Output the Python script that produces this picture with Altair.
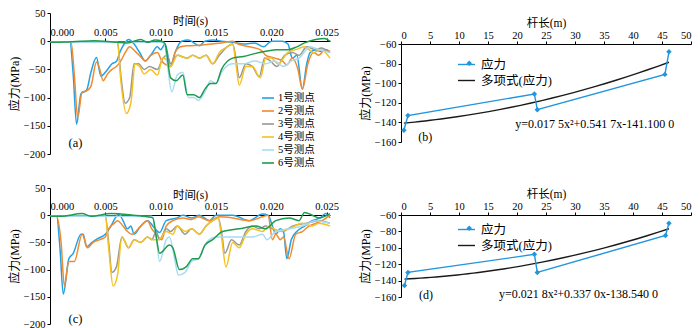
import altair as alt
import pandas as pd

FONT = "Liberation Serif, Noto Sans CJK SC, sans-serif"

SERIES = ["1号测点", "2号测点", "3号测点", "4号测点", "5号测点", "6号测点"]
COLORS = ["#22a2e6", "#f28a2e", "#989898", "#f6c21e", "#a8dcf3", "#1f9b4f"]

X_TS_DOMAIN = [0, 0.0253]
X_TS_TICKS = [0.0, 0.005, 0.010, 0.015, 0.020, 0.025]
Y_TS_DOMAIN = [-200, 50]
Y_TS_TICKS = [-200, -150, -100, -50, 0, 50]

# ---------------- panel (a): time in ms, stress in MPa ----------------
A1_T = [0, 1.8, 2.1, 2.4, 2.8, 3.3, 3.7, 4.2, 4.6, 5.2, 5.6, 6.0, 6.3, 6.7, 7.1, 7.6, 8.1, 8.6, 9.1, 9.7, 10.0,
        10.4, 10.9, 11.3, 11.9, 12.5, 13.0, 13.5, 14.0, 14.8, 15.5, 16.5, 17.5, 18.5, 19.3, 20.0, 21.0, 21.5,
        21.9, 22.3, 22.8, 23.2, 23.5, 24.0, 24.5, 25.0, 25.3]
A1_V = [-2, -2, -60, -147, -93, -87, -55, -29, -62, -50, -40, -36, -20, -5, 3, -5, -20, -35, -25, -10, -15,
        -5, -45, -20, 0, 2, -3, -8, 0, 2, 0, -2, -5, -3, -10, 0, 0, -5, -30, -25, -85, -40, -20, -15, -18, -15, -20]
A2_T = [0, 1.9, 2.2, 2.5, 2.9, 3.3, 3.7, 4.2, 4.5, 4.8, 5.2, 5.6, 6.0, 6.4, 6.8, 7.2, 7.7, 8.2, 8.6, 9.1, 9.7,
        10.1, 10.5, 10.9, 11.3, 11.8, 12.5, 13.5, 14.5, 15.5, 16.5, 17.0, 18.0, 19.0, 19.5, 20.3, 21.0, 21.4,
        21.9, 22.4, 22.8, 23.3, 23.8, 24.3, 24.8, 25.3]
A2_V = [-2, -2, -60, -135, -90, -88, -80, -37, -50, -70, -58, -50, -45, -35, -20, -10, -18, -28, -35, -25, -20,
        -35, -42, -45, -20, -10, -8, -7, -5, -3, 0, -5, -10, -15, -25, -30, -35, -42, -30, -50, -85, -40, -20,
        -25, -15, -18]
A3_T = [0, 6.1, 6.4, 6.8, 7.2, 7.6, 8.0, 8.5, 9.0, 9.7, 10.2, 10.6, 10.9, 11.5, 12.4, 12.9, 13.5, 14.1, 14.7,
        15.3, 16.0, 16.5, 16.8, 17.1, 17.7, 18.3, 18.9, 19.4, 19.9, 20.5, 21.2, 21.9, 22.5, 23.2, 24.0, 24.5, 25.3]
A3_V = [-2, -2, -60, -110, -100, -40, -40, -50, -45, -50, -30, -25, -40, -25, -30, -25, -30, -25, -40,
        -25, -10, -5, -30, -65, -40, -45, -63, -30, -35, -45, -25, -20, -25, -10, -15, -12, -20]
A4_T = [0, 6.1, 6.4, 6.9, 7.3, 7.7, 8.1, 8.5, 9.1, 9.7, 10.2, 10.6, 10.9, 11.5, 12.4, 12.9, 13.5, 14.1, 14.7,
        15.3, 16.0, 16.5, 16.8, 17.1, 17.7, 18.3, 19.0, 19.5, 20.0, 20.6, 21.5, 22.2, 23.0, 23.8, 24.5, 25.3]
A4_V = [-2, -2, -70, -128, -110, -40, -45, -58, -50, -60, -30, -35, -45, -25, -30, -25, -30, -25, -40,
        -20, -10, -5, -40, -78, -45, -45, -65, -30, -30, -40, -20, -15, -10, -20, -15, -30]
A5_T = [0, 10.3, 10.6, 11.0, 11.5, 12.0, 12.5, 13.0, 13.4, 14.0, 14.5, 15.0, 15.5, 16.5, 17.5, 18.5, 19.5,
        20.3, 21.1, 21.8, 22.5, 23.5, 24.3, 25.3]
A5_V = [-2, -2, -40, -90, -60, -55, -100, -100, -105, -90, -70, -75, -55, -40, -40, -35, -40,
        -35, -45, -35, -30, -10, -15, -20]
A6_T = [0, 2.0, 4.0, 6.0, 7.0, 8.2, 8.8, 9.5, 10.1, 10.4, 10.9, 11.4, 12.0, 12.4, 13.0, 13.5, 14.0, 14.5,
        15.0, 15.5, 16.5, 17.5, 18.5, 19.5, 20.5, 21.5, 22.3, 23.0, 24.0, 24.8, 25.3]
A6_V = [-2, -1, 1, -2, -3, 3, -2, 2, 0, -5, -65, -70, -60, -95, -95, -100, -85, -75,
        -75, -50, -30, -27, -22, -18, -15, -15, -10, -3, 3, 5, 0]

# ---------------- panel (c) ----------------
C1_T = [0, 0.6, 0.9, 1.2, 1.7, 2.1, 2.8, 3.0, 3.3, 3.8, 4.3, 5.0, 5.5, 5.9, 6.2, 6.6, 7.0, 7.3, 7.6, 8.2, 8.8,
        9.5, 9.9, 10.5, 11.5, 12.0, 12.8, 13.5, 14.4, 15.0, 16.5, 18.0, 19.2, 19.7, 20.1, 20.4, 20.8, 21.1,
        21.4, 21.8, 22.3, 23.0, 23.7, 24.4, 24.9, 25.3]
C1_V = [-2, -2, -60, -145, -80, -70, -35, -35, -58, -50, -43, -35, -20, -5, 2, -10, -25, -20, -35, -20, -10,
        -25, -32, -10, -5, 0, -5, 0, -10, 0, 0, -10, 2, 0, -20, -35, -25, -30,
        -80, -45, -30, -20, -10, -5, 3, -5]
C2_T = [0, 0.6, 1.0, 1.3, 1.7, 2.2, 2.9, 3.4, 3.9, 4.5, 5.0, 5.3, 5.8, 6.1, 6.6, 7.0, 7.4, 8.2, 8.8, 9.2, 9.6,
        10.1, 10.5, 11.1, 12.0, 12.8, 13.4, 14.4, 15.3, 16.5, 18.0, 19.2, 19.7, 20.1, 20.4, 20.8, 21.1, 21.6,
        22.2, 22.8, 23.4, 24.0, 24.6, 25.3]
C2_V = [-2, -2, -50, -130, -85, -85, -35, -60, -50, -45, -40, -25, -15, -10, -20, -30, -35, -20, -10, -25, -35,
        -45, -20, -10, -5, -8, -3, -10, -3, -5, -10, -3, 0, -45, -35, -45, -40, -80,
        -35, -30, -20, -15, -10, 0]
C3_T = [0, 5.0, 5.3, 5.6, 6.0, 6.5, 7.1, 7.6, 8.2, 8.8, 9.2, 9.6, 9.9, 10.5, 10.9, 11.5, 12.2, 12.8, 13.5,
        14.1, 14.7, 15.2, 15.5, 15.8, 16.4, 17.1, 17.7, 18.3, 18.9, 19.5, 20.1, 21.0, 21.9, 23.1, 24.3, 25.3]
C3_V = [-2, -2, -50, -105, -95, -40, -60, -45, -50, -40, -45, -30, -45, -25, -30, -20, -35, -25, -35,
        -20, -10, -5, -30, -70, -45, -55, -30, -20, -25, -20, -25, -30, -20, -15, -10, -15]
C4_T = [0, 5.0, 5.3, 5.7, 6.1, 6.5, 7.1, 7.6, 8.2, 8.8, 9.3, 9.8, 10.5, 11.1, 11.5, 12.2, 12.8, 13.5, 14.1,
        14.7, 15.2, 15.5, 15.9, 16.5, 17.1, 17.7, 18.3, 19.2, 19.8, 20.7, 21.6, 22.8, 23.7, 24.3, 25.3]
C4_V = [-2, -2, -60, -130, -110, -40, -60, -45, -50, -40, -45, -45, -30, -35, -20, -30, -25, -35, -20,
        -10, -5, -40, -95, -50, -60, -35, -25, -30, -20, -30, -25, -15, -20, -15, -20]
C5_T = [0, 9.2, 9.6, 9.9, 10.5, 10.8, 11.3, 11.6, 12.2, 12.8, 13.4, 14.0, 14.4, 15.0, 16.5, 18.3, 19.2, 19.6,
        20.4, 21.6, 22.8, 24.0, 25.3]
C5_V = [-2, -2, -40, -85, -45, -40, -85, -110, -105, -85, -80, -55, -45, -40, -40, -40, -35, -45,
        -30, -25, -20, -10, -15]
C6_T = [0, 1.0, 2.9, 3.7, 5.5, 7.5, 8.8, 9.3, 9.6, 9.9, 10.8, 11.1, 11.7, 12.3, 12.9, 13.4, 14.0, 14.7, 15.6,
        17.1, 18.6, 19.5, 20.4, 21.6, 22.5, 23.0, 23.7, 24.3, 25.3]
C6_V = [-2, -2, 3, -2, 3, 0, -3, -5, -40, -70, -55, -60, -100, -95, -80, -80, -55, -45, -30,
        -25, -20, -25, -10, -5, -10, 5, 0, -5, 3]

# ---------------- panels (b) and (d) ----------------
LEN_SERIES = ["应力", "多项式(应力)"]
LEN_COLORS = ["#2196dc", "#1a1a1a"]
X_LEN_TICKS = [0, 5, 10, 15, 20, 25, 30, 35, 40, 45, 50]
Y_LEN_TICKS = [-160, -140, -120, -100, -80, -60]
B_X = [0.5, 1.2, 23.0, 23.5, 45.5, 46.2]
B_Y = [-148, -133, -111, -127, -91, -68]
D_X = [0.6, 1.2, 23.0, 23.5, 45.6, 46.2]
D_Y = [-146, -130, -108, -130, -85, -70]
B_EQ = "y=0.017 5x²+0.541 7x-141.100 0"
D_EQ = "y=0.021 8x²+0.337 0x-138.540 0"


def ts_panel(ts_list, vs_list, width, height, tag, tag_t, tag_v, show_legend):
    rows = []
    for name, ts, vs in zip(SERIES, ts_list, vs_list):
        rows += [{"t": t / 1000.0, "v": v, "s": name} for t, v in zip(ts, vs)]
    df = pd.DataFrame(rows)
    zero_off = -round(height * Y_TS_DOMAIN[1] / (Y_TS_DOMAIN[1] - Y_TS_DOMAIN[0]))
    x = alt.X("t:Q", scale=alt.Scale(domain=X_TS_DOMAIN, nice=False, zero=False),
              axis=alt.Axis(orient="top", offset=zero_off, values=X_TS_TICKS, format=".3f",
                            title="时间(s)", labelFlush=True, tickSize=3, labelPadding=1,
                            titlePadding=1))
    y = alt.Y("v:Q", scale=alt.Scale(domain=Y_TS_DOMAIN, nice=False, zero=False),
              axis=alt.Axis(values=Y_TS_TICKS, title="应力(MPa)", tickSize=3, labelPadding=2,
                            titlePadding=2, titleFontSize=12))
    if show_legend:
        legend = alt.Legend(orient="none", legendX=211, legendY=height - 63,
                            title=None, symbolType="stroke", symbolSize=144,
                            symbolStrokeWidth=1.6, labelFont=FONT, labelFontSize=10.5,
                            rowPadding=0, padding=0, labelOffset=3, labelColor="#000")
    else:
        legend = None
    color = alt.Color("s:N", scale=alt.Scale(domain=SERIES, range=COLORS), legend=legend)
    lines = alt.Chart(df).mark_line(strokeWidth=1.5, interpolate="monotone").encode(
        x=x, y=y, color=color)
    tdf = pd.DataFrame({"t": [tag_t], "v": [tag_v], "label": [tag]})
    txt = alt.Chart(tdf).mark_text(font=FONT, fontSize=12.5, color="#000").encode(
        x=x, y=y, text="label:N")
    return alt.layer(lines, txt).properties(width=width, height=height)


def len_panel(xs, ys, width, height, tag, tag_x, tag_y, eq, eq_x, eq_y, leg_y):
    df = pd.DataFrame({"x": xs, "y": ys, "s": LEN_SERIES[0], "m": LEN_SERIES[0]})
    X = alt.X("x:Q", scale=alt.Scale(domain=[0, 50], nice=False),
              axis=alt.Axis(orient="top", values=X_LEN_TICKS, title="杆长(m)", tickSize=3,
                            labelPadding=1, titlePadding=2))
    Y = alt.Y("y:Q", scale=alt.Scale(domain=[-160, -60], nice=False, zero=False),
              axis=alt.Axis(values=Y_LEN_TICKS, title="应力(MPa)", tickSize=3, labelPadding=2,
                            titlePadding=2, titleFontSize=12))
    color = alt.Color("s:N", scale=alt.Scale(domain=LEN_SERIES, range=LEN_COLORS),
                      legend=alt.Legend(orient="none", legendX=56, legendY=leg_y, title=None,
                                        symbolType="stroke", symbolSize=289,
                                        symbolStrokeWidth=1.4, labelFont=FONT,
                                        labelFontSize=12.5, rowPadding=0, padding=0,
                                        labelOffset=5, labelColor="#000"))
    base = alt.Chart(df)
    line = base.mark_line(strokeWidth=1.4).encode(x=X, y=Y, color=color)
    fit = base.transform_regression("x", "y", method="poly", order=2).transform_calculate(
        s="'多项式(应力)'").mark_line(strokeWidth=1.4).encode(x=X, y=Y, color=color)
    pts = base.mark_point(filled=True, size=30, opacity=1, color=LEN_COLORS[0]).encode(
        x=X, y=Y,
        shape=alt.Shape("m:N", scale=alt.Scale(domain=[LEN_SERIES[0]], range=["diamond"]),
                        legend=alt.Legend(orient="none", legendX=62, legendY=leg_y + 2,
                                          title=None, symbolSize=30,
                                          symbolFillColor=LEN_COLORS[0],
                                          symbolStrokeColor=LEN_COLORS[0],
                                          labelFontSize=12.5, labelFont=FONT, padding=0,
                                          labelOpacity=0)))
    tdf = pd.DataFrame({"x": [tag_x, eq_x], "y": [tag_y, eq_y], "label": [tag, eq]})
    txt = alt.Chart(tdf).mark_text(font=FONT, fontSize=12, color="#000").encode(
        x=X, y=Y, text="label:N")
    return alt.layer(fit, line, pts, txt).resolve_scale(shape="independent").properties(
        width=width, height=height)


pa = ts_panel([A1_T, A2_T, A3_T, A4_T, A5_T, A6_T], [A1_V, A2_V, A3_V, A4_V, A5_V, A6_V],
              280, 141, "(a)", 0.0023, -180, True)
pc = ts_panel([C1_T, C2_T, C3_T, C4_T, C5_T, C6_T], [C1_V, C2_V, C3_V, C4_V, C5_V, C6_V],
              280, 136, "(c)", 0.0023, -190, False)
pb = len_panel(B_X, B_Y, 290, 98, "(b)", 4.2, -155, B_EQ, 33.4, -142, 11)
pd_ = len_panel(D_X, D_Y, 290, 82, "(d)", 4.3, -157, D_EQ, 30.6, -156, 5)

# invisible, axis-less spacer that lets the right column start above its own plot
spacer = alt.Chart(pd.DataFrame({"k": [0]})).mark_point(opacity=0).encode(
    x=alt.X("k:Q", axis=None), y=alt.Y("k:Q", axis=None)).properties(width=290, height=1)

col1 = alt.vconcat(pa, pc, spacing=14).resolve_scale(
    color="independent", shape="independent").resolve_legend(color="independent", shape="independent")
right_pair = alt.vconcat(pb, pd_, spacing=40).resolve_scale(
    color="independent", shape="independent").resolve_legend(color="independent", shape="independent")
col2 = alt.vconcat(spacer, right_pair, spacing=0).resolve_scale(
    color="independent", shape="independent").resolve_legend(color="independent", shape="independent")

chart = alt.hconcat(col1, col2, spacing=20, padding=0, background="#ffffff").resolve_scale(
    color="independent", shape="independent").resolve_legend(
    color="independent", shape="independent").configure_view(stroke=None).configure_axis(
    grid=False, domainColor="#000", tickColor="#000", labelColor="#000", titleColor="#000",
    labelFont=FONT, titleFont=FONT, titleFontWeight="normal", labelFontSize=10.5,
    titleFontSize=11.5, domainWidth=1, tickWidth=1)

chart.save("out.html", embed_options={"renderer": "svg", "actions": False})
